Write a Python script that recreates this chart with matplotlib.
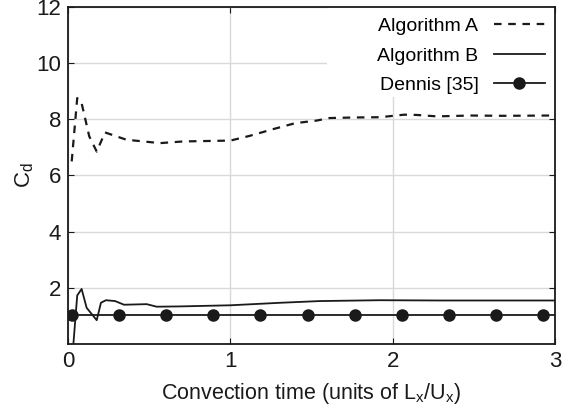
import numpy as np
import matplotlib.pyplot as plt
from matplotlib.patches import Rectangle

plt.rcParams['font.family'] = ['Liberation Sans', 'DejaVu Sans']
plt.rcParams['mathtext.fontset'] = 'custom'
plt.rcParams['mathtext.rm'] = 'Liberation Sans'

# Algorithm A (dashed)
ta = [0.023, 0.057, 0.084, 0.131, 0.177, 0.228, 0.36, 0.567, 0.71, 1.0, 1.12,
      1.265, 1.40, 1.53, 1.61, 1.75, 1.92, 2.07, 2.15, 2.27, 2.48, 2.68, 2.97, 3.0]
cda = [6.5, 8.75, 8.57, 7.39, 6.85, 7.53, 7.27, 7.15, 7.21, 7.24, 7.41,
       7.65, 7.86, 7.95, 8.04, 8.06, 8.07, 8.16, 8.15, 8.10, 8.13, 8.12, 8.13, 8.13]

# Algorithm B (solid)
tb = [0.029, 0.057, 0.084, 0.115, 0.177, 0.203, 0.234, 0.29, 0.345, 0.485,
      0.546, 0.69, 1.0, 1.31, 1.55, 1.92, 2.3, 2.7, 3.0]
cdb = [-0.3, 1.74, 1.97, 1.3, 0.86, 1.48, 1.57, 1.54, 1.41, 1.43,
       1.34, 1.35, 1.39, 1.48, 1.54, 1.57, 1.56, 1.56, 1.56]

# Dennis [35] reference value
td = [0.0, 0.025, 0.315, 0.605, 0.895, 1.185, 1.475, 1.765, 2.055, 2.345,
      2.635, 2.925, 3.0]
cdd = [1.06] * len(td)

fig = plt.figure(figsize=(5.76, 4.11), dpi=100)
ax = fig.add_axes([0.118, 0.162, 0.846, 0.822])

ax.plot(ta, cda, color='#1a1a1a', lw=1.6, ls=(0, (3.4, 3)), label='Algorithm A')
ax.plot(tb, cdb, color='#1a1a1a', lw=1.3, label='Algorithm B')
ax.plot(td, cdd, color='#1a1a1a', lw=1.3, marker='o', ms=8,
        markevery=list(range(1, len(td) - 1)), label='Dennis [35]')

ax.set_xlim(0, 3)
ax.set_ylim(0, 12)
ax.set_xticks([0, 1, 2, 3])
ax.set_yticks([2, 4, 6, 8, 10, 12])
ax.grid(True, color='#d9d9d9', lw=1)
ax.set_axisbelow(True)
ax.tick_params(direction='in', length=4, labelsize=16, top=True, right=True,
               colors='#1a1a1a', pad=5)
for s in ax.spines.values():
    s.set_linewidth(1.3)
    s.set_color('#1a1a1a')

# white box behind the legend hides the grid there
ax.add_patch(Rectangle((0.532, 0.732), 0.468, 0.268, transform=ax.transAxes,
                       fc='white', ec='none', zorder=1))

ax.set_xlabel(r'Convection time (units of L$_\mathregular{x}$/U$_\mathregular{x}$)',
              fontsize=15.5, color='#1a1a1a', labelpad=6)
ax.set_ylabel(r'C$_\mathregular{d}$', fontsize=16, color='#1a1a1a', labelpad=0)

leg = ax.legend(loc='upper right', markerfirst=False, frameon=False, fontsize=14,
                handlelength=2.6, labelspacing=0.62, borderaxespad=0.15)

fig.savefig('out.png', dpi=100)
